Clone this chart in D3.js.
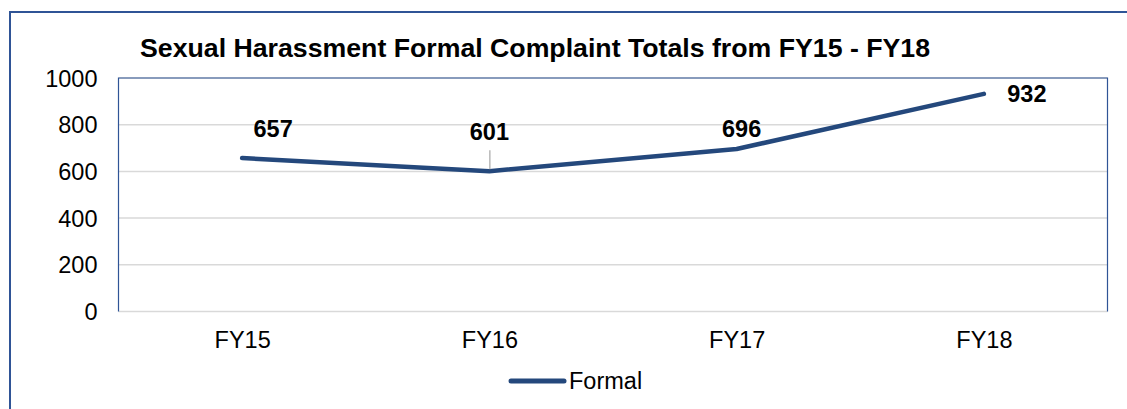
<!DOCTYPE html>
<html>
<head>
<meta charset="utf-8">
<script src="https://cdn.jsdelivr.net/npm/d3@7"></script>
<style>
  body { margin: 0; background: #fff; }
  text { font-family: "Liberation Sans", Arial, sans-serif; fill: #000; }
</style>
</head>
<body>
<svg id="chart" width="1127" height="409"></svg>
<script>
// Formal complaint totals line chart

const categories = ["FY15", "FY16", "FY17", "FY18"];
const formalValues = [657, 601, 696, 932];
const yTicks = [0, 200, 400, 600, 800, 1000];
const seriesName = "Formal";
const chartTitle = "Sexual Harassment Formal Complaint Totals from FY15 - FY18";

var svg = d3.select("#chart");
var width = +svg.attr("width");
var height = +svg.attr("height");

var lineColor = "#24487c";
var frameColor = "#2f5496";

var plot = { left: 118.5, top: 78, right: 1107.5, bottom: 311.5 };

// outer frame (runs off the right and bottom edges)
svg.append("rect")
    .attr("x", 10)
    .attr("y", 12)
    .attr("width", width + 20)
    .attr("height", height + 20)
    .attr("fill", "none")
    .attr("stroke", frameColor)
    .attr("stroke-width", 2);

var x = d3.scalePoint()
    .domain(categories)
    .range([plot.left, plot.right])
    .padding(0.5);

var y = d3.scaleLinear()
    .domain([0, 1000])
    .range([plot.bottom, plot.top]);

// gridlines
svg.append("g")
    .selectAll("line")
    .data(yTicks)
    .enter()
    .append("line")
    .attr("x1", plot.left)
    .attr("x2", plot.right)
    .attr("y1", d => y(d))
    .attr("y2", d => y(d))
    .attr("stroke", "#d9d9d9")
    .attr("stroke-width", 1.5);

// plot area border (left, top, right)
svg.append("path")
    .attr("d", `M${plot.left},${plot.bottom}V${plot.top}H${plot.right}V${plot.bottom}`)
    .attr("fill", "none")
    .attr("stroke", frameColor)
    .attr("stroke-width", 1.2);

// y axis labels
var yAxis = d3.axisLeft(y)
    .tickValues(yTicks)
    .tickFormat(d3.format("d"))
    .tickSize(0)
    .tickPadding(21);
var yG = svg.append("g")
    .attr("transform", `translate(${plot.left},0)`)
    .call(yAxis);
yG.select(".domain").remove();
yG.selectAll("text")
    .attr("font-size", 23.5)
    .attr("font-family", null)
    .attr("dy", "0.34em");

// x axis labels
var xAxis = d3.axisBottom(x).tickSize(0).tickPadding(0);
var xG = svg.append("g")
    .attr("transform", `translate(0,${plot.bottom})`)
    .call(xAxis);
xG.select(".domain").remove();
xG.selectAll("text")
    .attr("font-size", 23.5)
    .attr("font-family", null)
    .attr("dy", null)
    .attr("y", 36.5);

// title
svg.append("text")
    .attr("x", 535)
    .attr("y", 57)
    .attr("text-anchor", "middle")
    .attr("font-size", 26.7)
    .attr("font-weight", 700)
    .text(chartTitle);

// the line
var line = d3.line()
    .x((d, i) => x(categories[i]))
    .y(d => y(d));

svg.append("path")
    .datum(formalValues)
    .attr("d", line)
    .attr("fill", "none")
    .attr("stroke", lineColor)
    .attr("stroke-width", 4.5)
    .attr("stroke-linejoin", "round")
    .attr("stroke-linecap", "round");

// data labels, nudged like the original
var nudge = [[31, -21], [0, -30.7], [5, -12.3], [43, 8.4]];

// leader line for FY16 label
svg.append("line")
    .attr("x1", x(categories[1]) + 0.5)
    .attr("x2", x(categories[1]) + 0.5)
    .attr("y1", y(formalValues[1]) - 21)
    .attr("y2", y(formalValues[1]) - 2)
    .attr("stroke", "#a6a6a6")
    .attr("stroke-width", 1.2);

svg.append("g")
    .selectAll("text")
    .data(formalValues)
    .enter()
    .append("text")
    .attr("x", (d, i) => x(categories[i]) + nudge[i][0])
    .attr("y", (d, i) => y(d) + nudge[i][1])
    .attr("text-anchor", "middle")
    .attr("font-size", 23.5)
    .attr("font-weight", 700)
    .text(d => d);

// legend
var legend = svg.append("g");
legend.append("line")
    .attr("x1", 511)
    .attr("x2", 564)
    .attr("y1", 381)
    .attr("y2", 381)
    .attr("stroke", lineColor)
    .attr("stroke-width", 5)
    .attr("stroke-linecap", "round");
legend.append("text")
    .attr("x", 569)
    .attr("y", 389)
    .attr("font-size", 23.5)
    .text(seriesName);
</script>
</body>
</html>
